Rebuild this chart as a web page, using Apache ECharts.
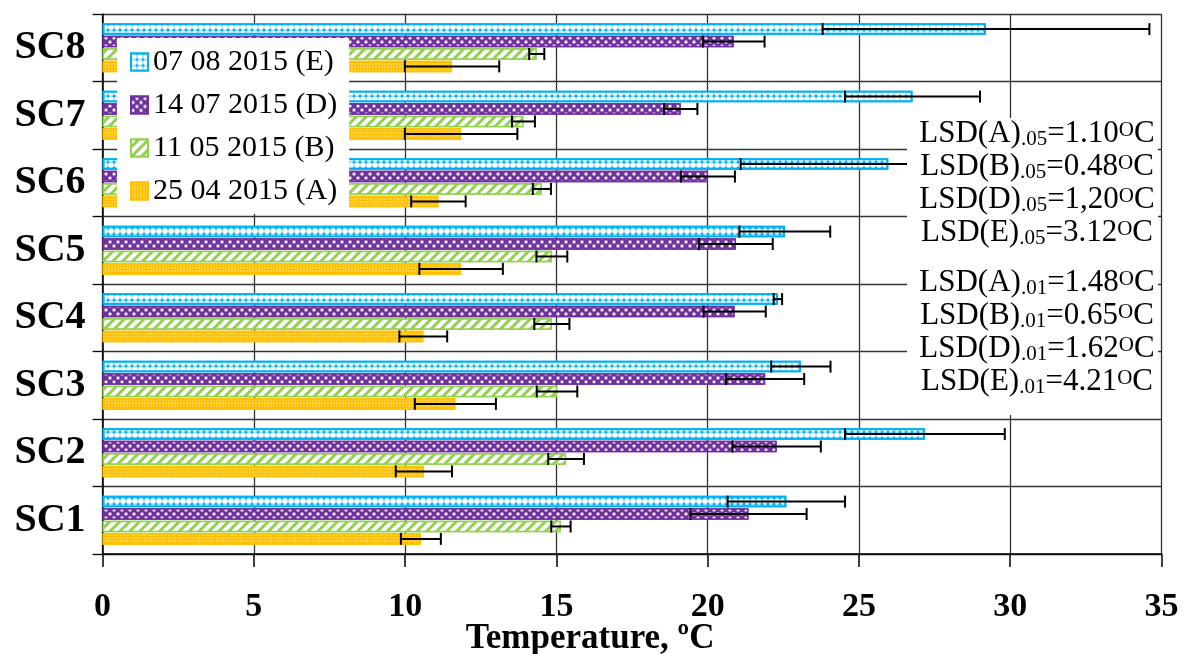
<!DOCTYPE html>
<html>
<head>
<meta charset="utf-8">
<script src="https://cdn.jsdelivr.net/npm/echarts@6/dist/echarts.min.js"></script>
<style>
  html, body { margin: 0; padding: 0; background: #fff; }
  #chart { width: 1184px; height: 654px; }
</style>
</head>
<body>
<div id="chart"></div>
<script>
// categories, bottom to top
var categories = ['SC1', 'SC2', 'SC3', 'SC4', 'SC5', 'SC6', 'SC7', 'SC8']
var xTicks = [0, 5, 10, 15, 20, 25, 30, 35]

// 07 08 2015 (E)
var valuesE = [22.6, 27.18, 23.08, 22.32, 22.55, 25.97, 26.77, 29.2]
var errorsE = [1.94, 2.64, 0.98, 0.14, 1.5, 4.88, 2.23, 5.4]
// 14 07 2015 (D)
var valuesD = [21.35, 22.28, 21.9, 20.89, 20.93, 20.01, 19.11, 20.86]
var errorsD = [1.92, 1.46, 1.29, 1.03, 1.22, 0.89, 0.55, 1.02]
// 11 05 2015 (B)
var valuesB = [15.15, 15.32, 15.02, 14.85, 14.85, 14.52, 13.91, 14.35]
var errorsB = [0.32, 0.59, 0.67, 0.58, 0.51, 0.3, 0.38, 0.25]
// 25 04 2015 (A)
var valuesA = [10.52, 10.62, 11.66, 10.6, 11.85, 11.1, 11.85, 11.55]
var errorsA = [0.66, 0.93, 1.34, 0.79, 1.38, 0.9, 1.86, 1.56]

// top bar in each group first
var seriesNames = ['07 08 2015 (E)', '14 07 2015 (D)', '11 05 2015 (B)', '25 04 2015 (A)']

// LSD notes
var lsdLetters = ['A', 'B', 'D', 'E']
var lsd05 = ['1.10', '0.48', '1,20', '3.12']
var lsd01 = ['1.48', '0.65', '1.62', '4.21']

var FONT = 'Liberation Serif, Times New Roman, serif'
var BAR_W = 11.5
var BAR_GAP = 0.08

var colors = ['#00B0F0', '#7030A0', '#92D050', '#FFC000']
var decals = [
  { color: '#ffffff', symbol: 'circle', symbolSize: 0.95, dashArrayX: [6, 0], dashArrayY: [6, 0] },
  { color: '#ffffff', symbol: 'rect', symbolSize: 0.7, dashArrayX: [[4, 4], [0, 4, 4, 0]], dashArrayY: [4, 0] },
  { color: '#ffffff', symbol: 'rect', symbolSize: 1, dashArrayX: [1, 0], dashArrayY: [4, 3], rotation: -Math.PI / 4 },
  { color: 'rgba(255,255,255,0.9)', symbol: 'rect', symbolSize: 0.6, dashArrayX: [2, 1], dashArrayY: [2, 1] }
]
var allValues = [valuesE, valuesD, valuesB, valuesA]
var allErrors = [errorsE, errorsD, errorsB, errorsA]

var chart = echarts.init(document.getElementById('chart'))

// error bar drawn on the centre line of the matching bar
function errorRender(idx) {
  return function (params, api) {
    var cat = api.value(0)
    var lo = api.coord([api.value(1), cat])
    var hi = api.coord([api.value(2), cat])
    var step = BAR_W * (1 + BAR_GAP)
    var y = lo[1] + (idx - 1.5) * step
    var cap = 6
    var st = { stroke: '#000', lineWidth: 2 }
    return {
      type: 'group',
      children: [
        { type: 'line', shape: { x1: lo[0], y1: y, x2: hi[0], y2: y }, style: st },
        { type: 'line', shape: { x1: lo[0], y1: y - cap, x2: lo[0], y2: y + cap }, style: st },
        { type: 'line', shape: { x1: hi[0], y1: y - cap, x2: hi[0], y2: y + cap }, style: st }
      ]
    }
  }
}

var series = []
allValues.forEach(function (vals, i) {
  series.push({
    name: seriesNames[i],
    type: 'bar',
    data: vals,
    barWidth: BAR_W,
    barGap: (BAR_GAP * 100) + '%',
    itemStyle: {
      color: colors[i],
      borderColor: colors[i],
      borderWidth: i === 0 ? 2 : 1.5,
      decal: decals[i]
    },
    z: 2
  })
})
allValues.forEach(function (vals, i) {
  series.push({
    type: 'custom',
    renderItem: errorRender(i),
    encode: { x: [1, 2], y: 0 },
    data: vals.map(function (v, k) {
      return [k, v - allErrors[i][k], v + allErrors[i][k]]
    }),
    z: 3,
    silent: true
  })
})

function lsdText(vals, sub) {
  return vals.map(function (v, i) {
    return '{n|LSD(' + lsdLetters[i] + ')}{s|' + sub + '}{n|=' + v + '}{p|O}{n|C}'
  }).join('\n')
}
var rich = {
  n: { fontFamily: FONT, fontSize: 31, lineHeight: 33, fill: '#000' },
  s: { fontFamily: FONT, fontSize: 21, lineHeight: 33, verticalAlign: 'bottom', fill: '#000' },
  p: { fontFamily: FONT, fontSize: 21, lineHeight: 33, verticalAlign: 'top', padding: [3, 0, 0, 0], fill: '#000' }
}

chart.setOption({
  animation: false,
  grid: { left: 102.6, right: 22.5, top: 14, bottom: 100, containLabel: false, outerBoundsMode: 'none' },
  legend: {
    data: seriesNames,
    orient: 'vertical',
    left: 117,
    top: 38,
    backgroundColor: '#ffffff',
    padding: [9, 12, 8, 13],
    itemWidth: 17,
    itemHeight: 17,
    itemGap: 13,
    icon: 'rect',
    textStyle: { fontFamily: FONT, fontSize: 30, color: '#000' }
  },
  xAxis: {
    type: 'value',
    min: xTicks[0],
    max: xTicks[xTicks.length - 1],
    interval: 5,
    name: 'Temperature, ºC',
    nameLocation: 'middle',
    nameGap: 67,
    nameMoveOverlap: false,
    nameTextStyle: { fontFamily: FONT, fontSize: 35, fontWeight: 'bold', color: '#000', padding: [0, 84, 0, 0] },
    axisLine: { show: true, lineStyle: { color: '#000', width: 1.5 } },
    axisTick: { show: true, length: 13, lineStyle: { color: '#000', width: 1.5 } },
    axisLabel: { margin: 36, fontFamily: FONT, fontSize: 34, fontWeight: 'bold', color: '#000' },
    splitLine: { show: true, lineStyle: { color: '#333', width: 1.3 } }
  },
  yAxis: {
    type: 'category',
    data: categories,
    axisLine: { show: true, lineStyle: { color: '#000', width: 1.5 } },
    axisTick: { show: true, length: 10, lineStyle: { color: '#000', width: 1.3 } },
    axisLabel: { margin: 17, fontFamily: FONT, fontSize: 40, fontWeight: 'bold', color: '#000' },
    splitLine: { show: true, lineStyle: { color: '#333', width: 1.3 } }
  },
  graphic: [
    { type: 'rect', z: 100, shape: { x: 907, y: 118, width: 251, height: 297 }, style: { fill: '#ffffff' } },
    { type: 'text', z: 101, style: { x: 1037, y: 183, align: 'center', verticalAlign: 'middle', text: lsdText(lsd05, '.05'), rich: rich } },
    { type: 'text', z: 101, style: { x: 1037, y: 332, align: 'center', verticalAlign: 'middle', text: lsdText(lsd01, '.01'), rich: rich } }
  ],
  series: series
})
</script>
</body>
</html>
